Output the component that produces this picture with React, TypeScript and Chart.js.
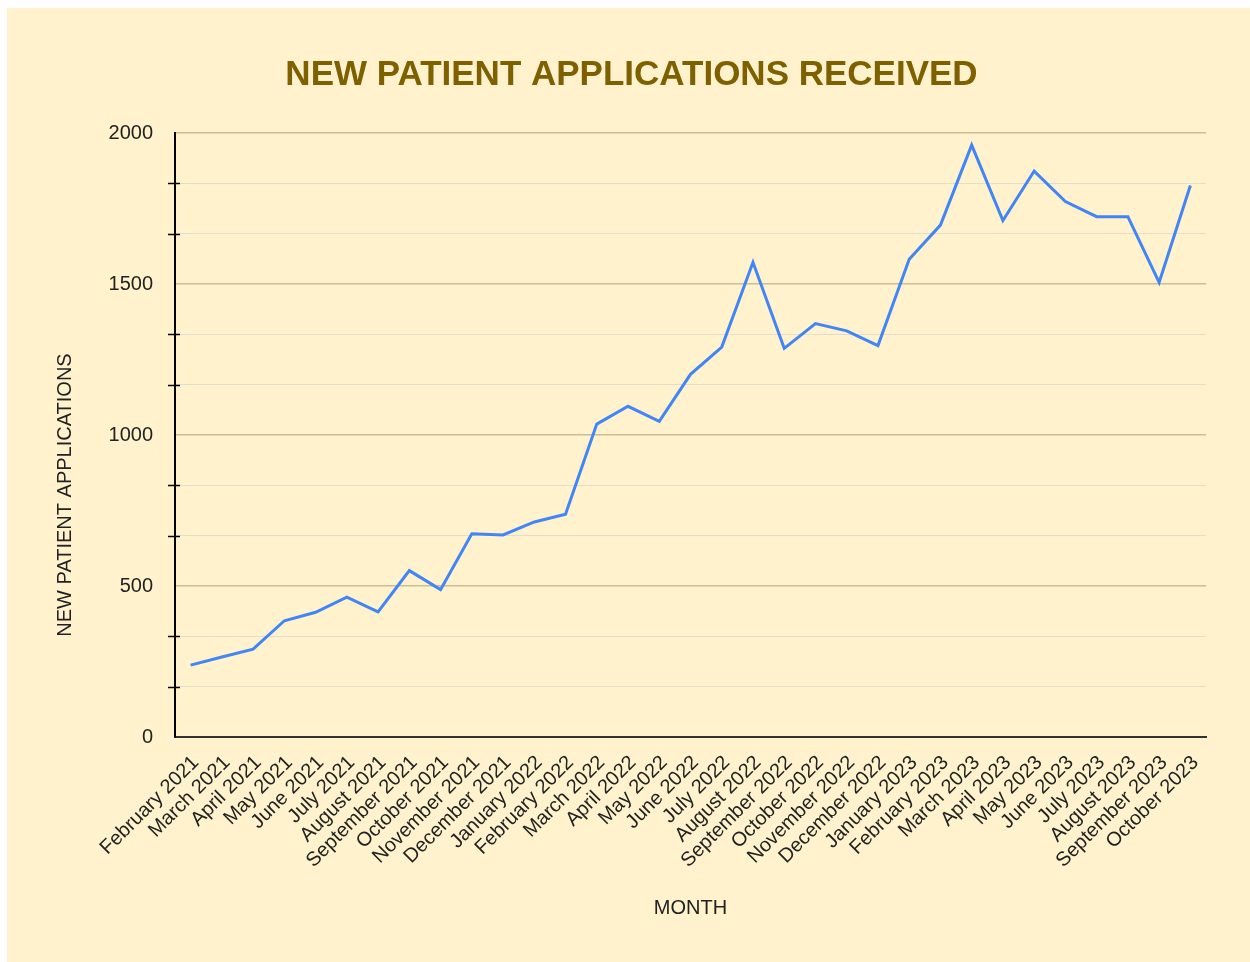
import React, { useEffect, useRef } from "react";
import { Chart, registerables } from "chart.js";

Chart.register(...registerables);

const MONTHS = [
  "February 2021", "March 2021", "April 2021", "May 2021", "June 2021", "July 2021",
  "August 2021", "September 2021", "October 2021", "November 2021", "December 2021",
  "January 2022", "February 2022", "March 2022", "April 2022", "May 2022", "June 2022",
  "July 2022", "August 2022", "September 2022", "October 2022", "November 2022",
  "December 2022", "January 2023", "February 2023", "March 2023", "April 2023",
  "May 2023", "June 2023", "July 2023", "August 2023", "September 2023", "October 2023",
];

const APPLICATIONS = [
  238, 265, 291, 385, 413, 463, 414, 551, 488, 673, 669,
  712, 738, 1036, 1095, 1045, 1201, 1291, 1572, 1287, 1369, 1345,
  1296, 1582, 1695, 1960, 1710, 1874, 1773, 1723, 1723, 1505, 1826,
];

const Y_TICKS = [
  0, 166.667, 333.333, 500, 666.667, 833.333, 1000,
  1166.667, 1333.333, 1500, 1666.667, 1833.333, 2000,
];

const TITLE = "NEW PATIENT APPLICATIONS RECEIVED";
const Y_TITLE = "NEW PATIENT APPLICATIONS";
const X_TITLE = "MONTH";

const FONT = "'Liberation Sans', Arial, sans-serif";
const isMajor = (v: number) => Math.abs(v / 500 - Math.round(v / 500)) < 1e-6;

const extras = {
  id: "extras",
  afterDraw(chart: any) {
    const { ctx } = chart;
    const y = chart.scales.y;
    ctx.save();
    // minor tick marks crossing the axis
    ctx.strokeStyle = "#000";
    ctx.lineWidth = 1.5;
    Y_TICKS.forEach((v) => {
      if (isMajor(v)) return;
      const py = Math.round(y.getPixelForValue(v)) + 0.5;
      ctx.beginPath();
      ctx.moveTo(y.right - 7, py);
      ctx.lineTo(y.right + 5, py);
      ctx.stroke();
    });
    // rotated y-axis title
    ctx.translate(58, 487);
    ctx.rotate(-Math.PI / 2);
    ctx.fillStyle = "#222";
    ctx.font = `20px ${FONT}`;
    ctx.textAlign = "center";
    ctx.textBaseline = "middle";
    ctx.fillText(Y_TITLE, 0, 0);
    ctx.restore();
  },
};

export default function App() {
  const ref = useRef<HTMLCanvasElement>(null);
  useEffect(() => {
    document.body.style.margin = "0";
    const chart = new Chart(ref.current!, {
      type: "line",
      data: {
        labels: MONTHS,
        datasets: [
          {
            label: Y_TITLE,
            data: APPLICATIONS,
            borderColor: "#4285F4",
            backgroundColor: "#4285F4",
            borderWidth: 3,
            pointRadius: 0,
            tension: 0,
          },
        ],
      },
      options: {
        animation: false,
        responsive: false,
        maintainAspectRatio: false,
        layout: { padding: { left: 6, right: 0, top: 0, bottom: 0 } },
        plugins: {
          legend: { display: false },
          tooltip: { enabled: false },
          title: {
            display: true,
            text: TITLE,
            color: "#7F6000",
            font: { family: FONT, size: 35, weight: "bold" },
            padding: { top: 46, bottom: 37 },
          },
        },
        scales: {
          x: {
            type: "category",
            offset: true,
            grid: { display: false, drawTicks: false },
            border: { display: true, color: "#333", width: 2 },
            ticks: {
              autoSkip: false,
              maxRotation: 45,
              minRotation: 45,
              color: "#222",
              padding: 14,
              labelOffset: 5,
              font: { family: FONT, size: 20 },
            },
            title: {
              display: true,
              text: X_TITLE,
              color: "#222",
              font: { family: FONT, size: 20 },
              padding: { top: 0, bottom: 42 },
            },
            afterFit: (s: any) => {
              s.height = 225;
            },
          },
          y: {
            min: 0,
            max: 2000,
            afterBuildTicks: (s: any) => {
              s.ticks = Y_TICKS.map((value) => ({ value }));
            },
            afterFit: (s: any) => {
              s.width = 162;
            },
            grid: {
              color: (c: any) => (isMajor(c.tick.value) ? "#cbbd95" : "#e3ddcc"),
              lineWidth: (c: any) => (isMajor(c.tick.value) ? 1.5 : 1),
              tickLength: 7,
              tickColor: "transparent",
            },
            border: { display: true, color: "#000", width: 2 },
            ticks: {
              autoSkip: false,
              color: "#222",
              padding: 15,
              font: { family: FONT, size: 20 },
              callback: (v: any) => (isMajor(Number(v)) ? String(Math.round(Number(v))) : ""),
            },
          },
          spacer: {
            position: "right",
            display: true,
            grid: { display: false, drawTicks: false },
            border: { display: false },
            ticks: { display: false },
            afterFit: (s: any) => {
              s.width = 44;
            },
          },
        },
      },
      plugins: [extras],
    });
    return () => chart.destroy();
  }, []);
  return (
    <div
      style={{
        position: "absolute",
        left: 7,
        top: 8,
        width: 1243,
        height: 954,
        background: "#FFF2CC",
      }}
    >
      <canvas ref={ref} width={1243} height={954} style={{ display: "block" }} />
    </div>
  );
}
